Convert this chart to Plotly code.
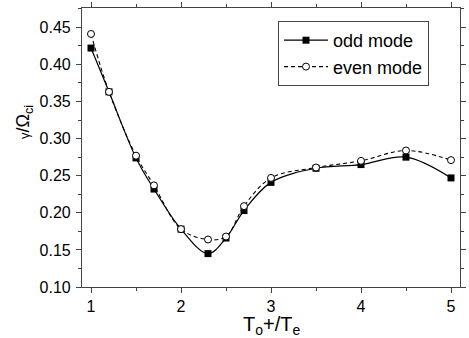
import plotly.graph_objects as go

x_vals = [1.0, 1.2, 1.5, 1.7, 2.0, 2.3, 2.5, 2.7, 3.0, 3.5, 4.0, 4.5, 5.0]
odd_mode = [0.422, 0.363, 0.274, 0.232, 0.178, 0.145, 0.166, 0.203, 0.241, 0.260, 0.265, 0.275, 0.247]
even_mode = [0.441, 0.363, 0.277, 0.237, 0.178, 0.164, 0.168, 0.209, 0.247, 0.261, 0.270, 0.284, 0.271]
x_ticks = [1, 2, 3, 4, 5]
y_ticks = [0.10, 0.15, 0.20, 0.25, 0.30, 0.35, 0.40, 0.45]

FONT = "Liberation Sans, Arial, sans-serif"
L, R, T, B = 82, 9, 8, 51
W, H = 469, 338
PW, PH = W - L - R, H - T - B

fig = go.Figure()
fig.add_trace(go.Scatter(
    x=x_vals, y=odd_mode, name="odd mode", mode="lines+markers",
    line=dict(color="black", width=1.2, shape="spline", smoothing=1.0),
    marker=dict(symbol="square", size=7, color="black", line=dict(width=0)),
))
fig.add_trace(go.Scatter(
    x=x_vals, y=even_mode, name="even mode", mode="lines+markers",
    line=dict(color="black", width=1.1, dash="4px,3px", shape="spline", smoothing=1.0),
    marker=dict(symbol="circle", size=7, color="white", line=dict(color="black", width=1)),
))

axis_common = dict(
    showgrid=False, zeroline=False, showline=True, linecolor="#444", linewidth=1.2,
    mirror="allticks", ticks="outside", ticklen=5, tickwidth=1, tickcolor="#444",
    tickfont=dict(family=FONT, size=16, color="black"), automargin=False,
)
fig.update_xaxes(range=[0.9, 5.1], tickvals=x_ticks,
                 minor=dict(ticks="outside", ticklen=3, dtick=0.5, tick0=0, tickcolor="#444"),
                 **axis_common)
fig.update_yaxes(range=[0.1, 0.476], tickvals=y_ticks, tickformat=".2f", ticklabelstandoff=2,
                 minor=dict(ticks="outside", ticklen=3, dtick=0.025, tick0=0, tickcolor="#444"),
                 **axis_common)

fig.add_annotation(
    text="T<sub>o</sub>+/T<sub>e</sub>", xref="paper", yref="paper",
    x=0.5, y=(T + PH - 311) / PH, xanchor="center", yanchor="top", showarrow=False,
    font=dict(family=FONT, size=20, color="black"),
)
fig.add_annotation(
    text="<span style='font-size:13px'>γ</span>/Ω<sub>ci</sub>", xref="paper", yref="paper",
    x=(25 - L) / PW, y=(T + PH - 122) / PH, xanchor="center", yanchor="middle",
    textangle=-90, showarrow=False,
    font=dict(family=FONT, size=18, color="black"),
)

fig.update_layout(
    width=W, height=H,
    margin=dict(l=L, r=R, t=T, b=B),
    plot_bgcolor="white", paper_bgcolor="white",
    font=dict(family=FONT, color="black"),
    legend=dict(x=(278 - L) / PW, y=(T + PH - 21) / PH, xanchor="left", yanchor="top",
                bgcolor="white", bordercolor="#444", borderwidth=1,
                font=dict(family=FONT, size=18, color="black"),
                itemwidth=44, tracegroupgap=0),
    showlegend=True,
)

fig.write_html("out.html", config={"displayModeBar": False},
               post_script="document.body.style.margin='0px';")
